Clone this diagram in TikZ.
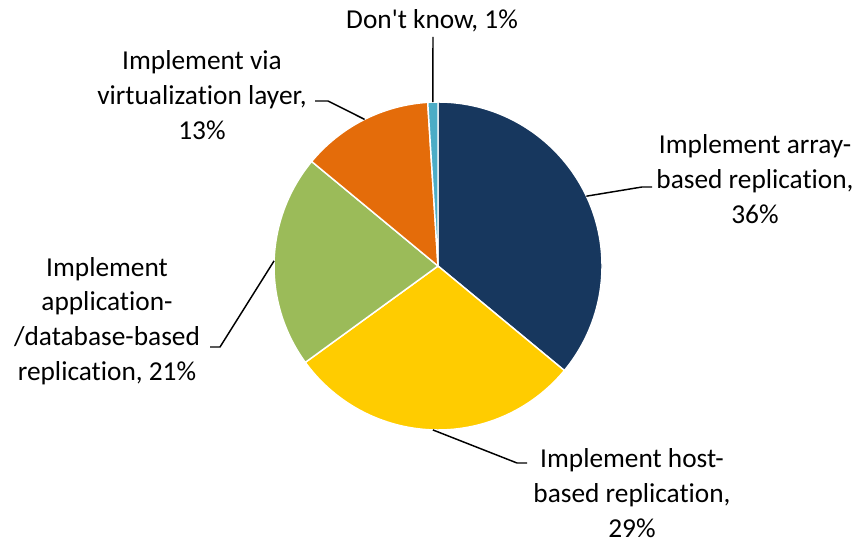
\documentclass[tikz,border=0pt]{standalone}
\usepackage{fontspec}
\setmainfont{Carlito}[Ligatures={NoCommon}]
\usepackage{xcolor}
\usepackage{tikz}
\usetikzlibrary{positioning}
\usetikzlibrary{calc}
\definecolor{navy}{HTML}{17375E}
\definecolor{gold}{HTML}{FFCC00}
\definecolor{olive}{HTML}{9BBB59}
\definecolor{rust}{HTML}{E46C0A}
\definecolor{sky}{HTML}{4BACC6}

\begin{document}
\begin{tikzpicture}[x=0.75pt,y=0.75pt,
    slice/.style={draw=white,line width=1.1pt},
    lbl/.style={align=center,font=\fontsize{20.5}{26}\selectfont,inner sep=0pt},
    lead/.style={draw=black,line width=1.1pt}]
        \useasboundingbox (0,0) rectangle (862,543);
        \def\r{123pt}
        \coordinate (O) at (438,277);
        % slices, clockwise from the top
        \fill[navy,slice] (O) -- ++(90:\r) arc[start angle=90,end angle=-39.6,radius=\r] -- cycle;
        \fill[gold,slice] (O) -- ++(-39.6:\r) arc[start angle=-39.6,end angle=-144,radius=\r] -- cycle;
        \fill[olive,slice] (O) -- ++(-144:\r) arc[start angle=-144,end angle=-219.6,radius=\r] -- cycle;
        \fill[rust,slice] (O) -- ++(-219.6:\r) arc[start angle=-219.6,end angle=-266.4,radius=\r] -- cycle;
        \fill[sky,slice] (O) -- ++(-266.4:\r) arc[start angle=-266.4,end angle=-270,radius=\r] -- cycle;
        % labels
        \node[lbl] (dk) at (432,522) {Don\textquotesingle t know, 1\%};
        \node[lbl] (virt) at (202,448) {Implement via\\virtualization layer,\\13\%};
        \node[lbl] (arr) at (755,364) {Implement array-\\based replication,\\36\%};
        \node[lbl] (app) at (107,222) {Implement\\application-\\/database-based\\replication, 21\%};
        \node[lbl] (host) at (632,50) {Implement host-\\based replication,\\29\%};
        % leader lines
        \coordinate (Pdk) at ($(O)+(91.8:\r)$);
        \coordinate (Pvirt) at ($(O)+(116.6:\r)$);
        \coordinate (Parr) at ($(O)+(25.2:\r)$);
        \coordinate (Papp) at ($(O)+(178.2:\r)$);
        \coordinate (Phost) at ($(O)+(-91.8:\r)$);
        \coordinate (Edk) at (433,506);
        \coordinate (Evirt) at (315,442);
        \coordinate (Earr) at (652,356);
        \coordinate (Eapp) at (210,196);
        \coordinate (Ehost) at (527,80);
        \draw[lead] (Pdk) -- (Edk);
        \draw[lead] (Pvirt) -- (328,442) -- (Evirt);
        \draw[lead] (Parr) -- (642,356) -- (Earr);
        \draw[lead] (Papp) -- (220,196) -- (Eapp);
        \draw[lead] (Phost) -- (517,80) -- (Ehost);
      \end{tikzpicture}
\end{document}
